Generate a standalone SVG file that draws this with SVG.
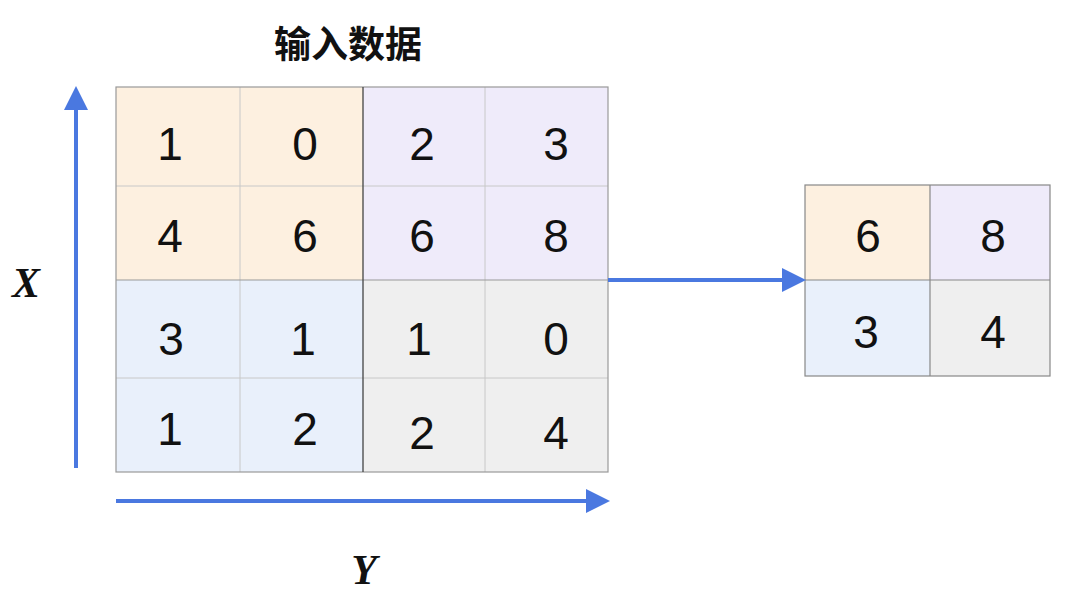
<svg xmlns="http://www.w3.org/2000/svg" width="1080" height="600" viewBox="0 0 1080 600">
<style>
.n{font-family:"Liberation Sans",Arial,sans-serif;font-size:46px;fill:#111;text-anchor:middle}
.c{stroke:#c8c8c8;stroke-width:1}
.ax{font-family:"Liberation Serif",serif;font-style:italic;font-weight:bold;font-size:42px;fill:#111;text-anchor:middle}
.o{fill:#fdf0e0}.p{fill:#efebfa}.b{fill:#e9f0fb}.g{fill:#efefef}
.ln{stroke:#4a78e0;stroke-width:4;fill:none}
</style>
<defs><marker id="ah" markerWidth="6" markerHeight="6" refX="5" refY="3" orient="auto" markerUnits="strokeWidth"><path d="M0,0L6,3L0,6z" fill="#4a78e0"/></marker></defs>
<rect width="1080" height="600" fill="#fff"/>
<text x="348" y="58" font-family="'Noto Sans CJK SC',sans-serif" font-weight="bold" font-size="37" text-anchor="middle" fill="#111">输入数据</text>
<g id="input">
<rect class="o" x="116" y="87" width="247" height="193"/>
<rect class="p" x="363" y="87" width="245" height="193"/>
<rect class="b" x="116" y="280" width="247" height="192"/>
<rect class="g" x="363" y="280" width="245" height="192"/>
<g class="c"><line x1="240" y1="87" x2="240" y2="472"/><line x1="485" y1="87" x2="485" y2="472"/><line x1="116" y1="186" x2="608" y2="186"/><line x1="116" y1="378" x2="608" y2="378"/></g>
<g stroke="#999" stroke-width="1.2" fill="none"><rect x="116" y="87" width="492" height="385"/><line x1="116" y1="280" x2="608" y2="280"/></g>
<line x1="363" y1="87" x2="363" y2="472" stroke="#444" stroke-width="1.3"/>
<text class="n" x="170" y="160">1</text><text class="n" x="305" y="160">0</text><text class="n" x="422" y="160">2</text><text class="n" x="556" y="160">3</text>
<text class="n" x="170" y="252">4</text><text class="n" x="305" y="252">6</text><text class="n" x="422" y="252">6</text><text class="n" x="556" y="252">8</text>
<text class="n" x="171" y="355">3</text><text class="n" x="303" y="355">1</text><text class="n" x="419" y="355">1</text><text class="n" x="556" y="355">0</text>
<text class="n" x="170" y="445">1</text><text class="n" x="305" y="445">2</text><text class="n" x="422" y="449">2</text><text class="n" x="556" y="449">4</text>
</g>
<g id="output">
<rect class="o" x="805" y="185" width="125" height="95"/>
<rect class="p" x="930" y="185" width="120" height="95"/>
<rect class="b" x="805" y="280" width="125" height="96"/>
<rect class="g" x="930" y="280" width="120" height="96"/>
<g stroke="#888" stroke-width="1.2" fill="none"><rect x="805" y="185" width="245" height="191"/><line x1="930" y1="185" x2="930" y2="376"/><line x1="805" y1="280" x2="1050" y2="280"/></g>
<text class="n" x="868" y="252">6</text><text class="n" x="993" y="252">8</text>
<text class="n" x="866" y="348">3</text><text class="n" x="993" y="348">4</text>
</g>
<g id="connectors">
<line class="ln" x1="76" y1="468" x2="76" y2="90" marker-end="url(#ah)"/>
<line class="ln" x1="116" y1="501" x2="606" y2="501" marker-end="url(#ah)"/>
<line class="ln" x1="608" y1="280" x2="802" y2="280" marker-end="url(#ah)"/>
</g>
<text class="ax" x="26" y="297">X</text>
<text class="ax" x="364" y="584">Y</text>
</svg>
